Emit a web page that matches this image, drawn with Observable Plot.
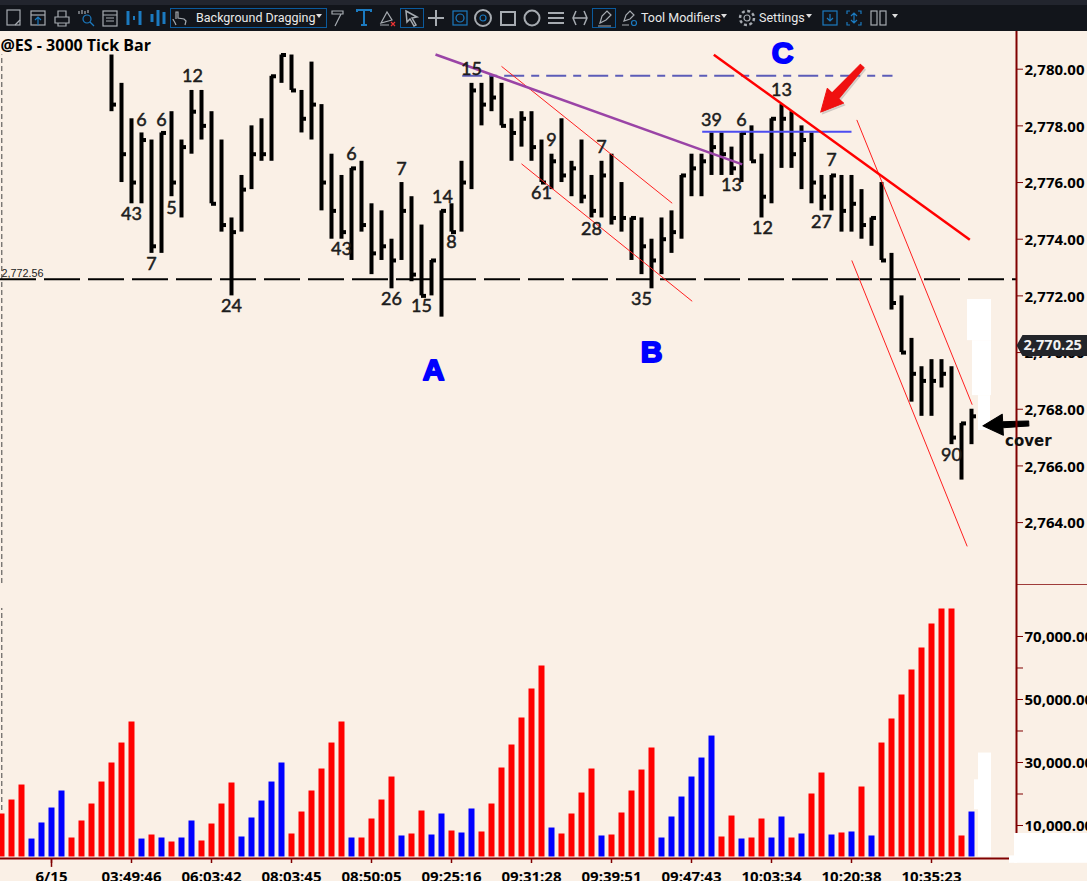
<!DOCTYPE html>
<html>
<head>
<meta charset="utf-8">
<script src="https://cdn.jsdelivr.net/npm/d3@7"></script>
<script src="https://cdn.jsdelivr.net/npm/@observablehq/plot@0.6"></script>
<style>
html,body{margin:0;padding:0;background:#faf0e6;overflow:hidden}
#toolbar{position:relative;width:1087px;height:31px;background:#12151b;border-top:5px solid #22252e;box-sizing:border-box;font-family:Roboto,sans-serif;color:#e9e9e9;font-size:12.5px}
#toolbar span.t{position:absolute;top:4px;line-height:17px;white-space:nowrap}
#toolbar svg{position:absolute;top:3px}
#toolbar .box{position:absolute;top:3px;height:20px;border:1px solid #0b5a9c;box-sizing:border-box}
#charts svg{display:block}
</style>
</head>
<body>
<div id="toolbar"></div>
<div id="charts"></div>
<script>
// ---------- data ----------
const firstPriceBar = 11;
const barHigh = [2780.5,2779.5,2778.25,2777.75,2777.5,2777.75,2778.5,2777.5,2779.25,2779.25,2778.5,2777.5,2774.75,2776.25,2778,2778.25,2779.75,2780.5,2780.5,2779.25,2780.25,2778.75,2777,2776.25,2776.5,2776.75,2775.25,2775,2774,2776,2775.5,2774.5,2773.25,2775,2775.25,2776.75,2779.5,2779.5,2779.75,2779.5,2778.25,2778.5,2778.5,2777.5,2777,2778.25,2776.75,2777.5,2776.25,2776.75,2777,2776,2774.75,2774.75,2774,2774.75,2775,2776.25,2777,2777,2777.75,2777.75,2777.25,2777.75,2778,2777,2778.25,2778.75,2778.5,2778,2777.75,2776.25,2776.25,2776.25,2776.25,2775.75,2774.75,2776,2773.5,2772,2770.5,2769.5,2769.75,2769.75,2769.5,2767.5,2768];
const barLow = [2778.5,2776,2775.25,2775.25,2773.5,2773.5,2775.5,2774.75,2777,2777.5,2775.25,2774.25,2772,2774.25,2775.75,2776.75,2776.75,2779.5,2779.25,2777.75,2777.5,2775,2774,2774,2773.25,2774.25,2772.75,2773.25,2772.25,2773.25,2772.5,2772,2772,2771.25,2774.25,2774.25,2775.75,2778,2778.5,2778,2776.75,2777.25,2776.75,2776,2775.75,2776,2775.5,2775.25,2774.75,2774.75,2774.5,2774.25,2773.25,2772.75,2772.25,2772.75,2773.5,2774,2775.5,2775.5,2776.25,2776.25,2776.25,2776,2776.75,2774.75,2775.25,2776.5,2776.5,2775.75,2775.25,2775,2775,2774.25,2774.25,2774,2773.75,2773.25,2771.5,2770,2768.25,2767.75,2767.75,2768.75,2766.75,2765.5,2766.75];
const barClose = [2778.75,2777,2776,2777.5,2773.75,2777.75,2776,2777.25,2778.5,2778,2775.25,2774.5,2774.25,2775.75,2777,2777,2779.75,2780.5,2779.25,2778.25,2778.75,2776,2775,2774.25,2776.5,2774.5,2773.5,2773.75,2773.25,2775,2772.75,2772,2773.25,2775,2774.25,2776,2779.25,2778.75,2779,2778,2777.75,2778.25,2777.25,2776,2776.75,2776.25,2776.5,2775.5,2775,2776.25,2774.75,2774.75,2774.75,2773.75,2773.25,2774,2774.25,2776.25,2776.5,2776.75,2777.25,2777,2776.5,2777.75,2776.75,2775.5,2778.25,2778.25,2777,2777.5,2776,2775.5,2776.25,2775,2775.25,2774.5,2774.75,2773.25,2771.75,2770,2769.25,2769,2769,2769.25,2767,2767.5,2767.75];

const volumes = [13650,18090,22850,5700,10800,15550,20950,6030,11430,16820,23800,29840,36180,42850,5700,6980,6030,4760,6030,11430,5080,10470,16820,23490,6350,12380,17770,23800,29840,7300,14280,20950,27930,36180,42850,6030,6030,12060,18090,25390,6670,7300,14600,6980,13650,8250,7620,15240,7940,16820,28250,35550,44120,53320,60620,9200,7300,13650,20310,27930,6670,6980,13970,20950,27610,34600,6030,12700,19040,25390,31420,38400,6350,13010,5710,6030,12060,6030,12700,6030,7300,20000,26660,6980,7620,7940,22220,6670,36180,43800,51420,59350,66340,73950,78700,78700,6670,14280];
const volumeSide = "RRRBBBBRRRRRRRBRBRBBRRRRBBBBBRRRRRRBRRRRBRRBBRBBRRRRRRRBRRRRBRRRRRBBBBBBRRBRRBBRBRRBRBRBRRRRRRRRRBB".split("");

const tickBars = [5,13,21,29,37,45,53,61,69,77,85,93];
const tickLabels = ["6/15","03:49:46","06:03:42","08:03:45","08:50:05","09:25:16","09:31:28","09:39:51","09:47:43","10:03:34","10:20:38","10:35:23"];

const noteText  = ["43","6","6","12","5","7","24","6","43","7","26","15","14","8","15","61","9","7","28","35","39","6","13","12","13","27","7","90"];
const noteBar   = [13,14,16,19.1,17,15,23,35,34,40,39,42,44.1,45,47,54,55,60,59,64,71,74,73,76.1,78,82,83,95];
const notePrice = [2774.87,2778.19,2778.19,2779.74,2775.08,2773.11,2771.62,2776.99,2773.64,2776.46,2771.87,2771.62,2775.47,2773.88,2780,2775.61,2777.48,2777.24,2774.34,2771.87,2778.19,2778.19,2775.9,2774.38,2779.25,2774.59,2776.78,2766.36];

const pivotDrawn = 2772.59;
const lastPrice = 2770.25;
const paneRight = 101.5;
const farRight = 108.7;
const priceTicks = [2764,2766,2768,2770,2772,2774,2776,2778,2780];
const volumeTicks = [10000,20000,30000,40000,50000,60000,70000];
const axisRed = "#800000";
const boldFont = "'Open Sans'";
const panel = "#faf0e6";

// trend lines: [x1 bar, price1, x2 bar, price2]
const purpleLine = [43.4,2780.52,74.07,2776.64];
const dashLine   = [46.07,2779.77,89.1,2779.77];
const blueLine   = [70.07,2777.79,85,2777.79];
const redLine    = [71.23,2780.51,96.83,2773.98];
const thinLines  = [[50,2780.1,67.07,2775.27],[52,2776.66,69.07,2771.81],[85.53,2778.21,97.07,2768.16],[85.03,2773.25,96.57,2763.16]];

const bars = barHigh.map((h,k)=>({i:firstPriceBar+k,high:h,low:barLow[k],close:barClose[k]}));
const notes = noteText.map((t,k)=>({t,i:noteBar[k],p:notePrice[k]}));
const volumeRows = volumes.map((v,i)=>({i,v,side:volumeSide[i]}));
const seg = ([x1,y1,x2,y2])=>[{x1,y1,x2,y2}];
const linkOf = (s,o)=>Plot.link(seg(s),{x1:"x1",y1:"y1",x2:"x2",y2:"y2",...o});

// custom shapes for Plot.vector
const arrowShape = (w0,w1,hl,hw)=>({draw(c,l){
  c.moveTo(-w0,0);c.lineTo(-w1,-(l-hl));c.lineTo(-hw,-(l-hl));c.lineTo(0,-l);c.lineTo(hw,-(l-hl));c.lineTo(w1,-(l-hl));c.lineTo(w0,0);c.closePath();
}});
const tagShape = {draw(c){c.moveTo(0,0);c.lineTo(6,-10.5);c.lineTo(73,-10.5);c.lineTo(73,10.5);c.lineTo(6,10.5);c.closePath();}};

const big = {fontFamily:"'Liberation Sans'",fontWeight:"bold",fontSize:30,fill:"#0000ff",stroke:"#0000ff",strokeWidth:2};
const redArrow = {x:86.07,y:2780.11,length:62,rotate:222,anchor:"start",shape:arrowShape(2.5,4.5,22,11)};
const axisFont = {fontFamily:boldFont,fontWeight:"bold",fontSize:15};

const price = Plot.plot({
  width:1087,height:554,marginTop:0,marginBottom:0,marginLeft:0,marginRight:71,
  style:{background:panel,overflow:"hidden"},
  x:{domain:[-0.1,paneRight],range:[0,1016],axis:null},
  y:{domain:[2761.78,2781.33],axis:null},
  marks:[
    Plot.ruleX([0.03],{y1:2761.85,y2:2780.5,stroke:"#444",strokeWidth:1,strokeDasharray:"5,3"}),
    Plot.ruleY([pivotDrawn],{x1:-0.1,x2:paneRight,stroke:"#000",strokeWidth:2,strokeDasharray:"36,8"}),
    Plot.ruleX(bars,{x:"i",y1:"low",y2:"high",stroke:"#000",strokeWidth:4}),
    Plot.ruleY(bars,{y:"close",x1:"i",x2:d=>d.i+0.5,stroke:"#000",strokeWidth:4}),
    linkOf(dashLine,{stroke:"#5c5cb8",strokeWidth:2,strokeDasharray:"20,7,8,7"}),
    linkOf(blueLine,{stroke:"#4c4cf0",strokeWidth:2}),
    ...thinLines.map(s=>linkOf(s,{stroke:"#ff2020",strokeWidth:1})),
    linkOf(purpleLine,{stroke:"#9a44a6",strokeWidth:2.5}),
    linkOf(redLine,{stroke:"#ff0000",strokeWidth:2.5}),
    Plot.text(notes,{x:"i",y:"p",text:"t",fontFamily:"Lato",fontSize:18,fill:"#1c1c1c",stroke:"#1c1c1c",strokeWidth:0.5}),
    Plot.text(["A"],{x:43.2,y:2769.36,...big}),
    Plot.text(["B"],{x:65,y:2770,...big}),
    Plot.text(["C"],{x:78.1,y:2780.55,...big}),
    Plot.text(["@ES - 3000 Tick Bar"],{x:-0.1,y:2780.84,textAnchor:"start",fontFamily:boldFont,fontWeight:"bold",fontSize:16,fill:"#000"}),
    Plot.text(["2,772.56"],{x:-0.1,y:2772.8,dx:1,textAnchor:"start",fontFamily:"'Liberation Sans'",fontSize:10.8,fill:"#222"}),
    // erased patches
    Plot.rect([[96.6,99,2770.42,2771.87],[97.1,99,2768.48,2770.42],[97.7,98.9,2767.25,2768.48]],{x1:"0",x2:"1",y1:"2",y2:"3",fill:"#fff"}),
    // red call-out arrow and black cover arrow
    Plot.vector([0],{...redArrow,dx:1.5,dy:2,fill:"#888",stroke:"#888",strokeWidth:1,fillOpacity:0.3,strokeOpacity:0.2}),
    Plot.vector([0],{...redArrow,fill:"#f01010",stroke:"#f01010",strokeWidth:1}),
    Plot.vector([0],{x:102.73,y:2767.5,length:46,rotate:267,anchor:"start",shape:arrowShape(2.5,3,20,10.5),fill:"#000",stroke:"#000",strokeWidth:1}),
    // right axis
    Plot.ruleX([paneRight],{stroke:axisRed,strokeWidth:2}),
    Plot.ruleY([2761.8],{x1:paneRight,x2:farRight,stroke:axisRed,strokeWidth:1.5}),
    Plot.axisY({anchor:"right",ticks:priceTicks,tickFormat:()=>"",tickSize:6,stroke:axisRed,label:null}),
    Plot.axisY({anchor:"right",ticks:priceTicks,tickFormat:d3.format(",.2f"),tickSize:0,tickPadding:8,dy:1,fill:"#000",...axisFont,label:null}),
    Plot.vector([0],{x:paneRight,y:lastPrice,length:1,anchor:"start",shape:tagShape,fill:"#23252a",stroke:"none"}),
    Plot.text([lastPrice],{x:paneRight,y:lastPrice,text:d3.format(",.2f"),dx:7,textAnchor:"start",fontFamily:boldFont,fontWeight:"bold",fontSize:14.6,fill:"#f2f2f2"}),
    Plot.text(["cover"],{x:102.68,y:2766.86,fontFamily:"'DejaVu Sans'",fontWeight:"bold",fontSize:15,fill:"#111"})
  ]
});

const volume = Plot.plot({
  width:1087,height:296,marginTop:0,marginBottom:23,marginLeft:0,marginRight:71,
  style:{background:panel,overflow:"hidden"},
  x:{domain:[-0.1,paneRight],range:[0,1016],axis:null},
  y:{domain:[-476,86190],axis:null},
  color:{domain:["R","B"],range:["#ff0000","#0000ff"]},
  marks:[
    Plot.ruleX([0.03],{y1:14760,y2:78890,stroke:"#444",strokeWidth:1,strokeDasharray:"5,3"}),
    Plot.ruleX(volumeRows,{x:"i",y1:0,y2:"v",stroke:"side",strokeWidth:6}),
    Plot.rect([[97.7,99,0,33000],[97.3,99,15000,24500]],{x1:"0",x2:"1",y1:"2",y2:"3",fill:"#fff"}),
    Plot.ruleX([paneRight],{stroke:axisRed,strokeWidth:2}),
    Plot.ruleY([-476],{x1:-0.1,x2:100.8,stroke:axisRed,strokeWidth:2}),
    Plot.ruleX([tickBars[0]],{y1:-476,y2:-3300,stroke:axisRed,strokeWidth:1.5}),
    Plot.axisX({anchor:"bottom",ticks:tickBars,tickFormat:d=>tickLabels[tickBars.indexOf(d)],tickSize:5,tickPadding:8,stroke:axisRed,strokeWidth:1.5,fill:"#000",...axisFont,label:null}),
    Plot.axisY({anchor:"right",ticks:volumeTicks,tickFormat:()=>"",tickSize:6,stroke:axisRed,label:null}),
    Plot.axisY({anchor:"right",ticks:volumeTicks,tickFormat:d=>d%20000?d3.format(",.2f")(d):"",tickSize:0,tickPadding:8,dy:1,fill:"#000",...axisFont,label:null}),
    Plot.rect([[101.3,farRight,-2000,7460],[100.8,101.6,-2000,350]],{x1:"0",x2:"1",y1:"2",y2:"3",fill:"#fff"})
  ]
});

document.getElementById("charts").append(price,volume);

// ---------- toolbar chrome ----------
const G="#a6abb1",B="#1b7ac0";
const icons=[
 [14,G,'<rect x="3" y="2" width="13" height="15" fill="none"/><path d="M11 17l5-5" fill="none"/>'],
 [38,G,'<rect x="3" y="3" width="14" height="14" fill="none"/><path d="M3 7h14" fill="none"/><path d="M10 17V9M7 12l3-3 3 3" stroke="'+B+'" fill="none"/>'],
 [62,G,'<path d="M6 9V3h8v6M3 9h14v6H3zM6 15v3h8v-3" fill="none"/>'],
 [86,G,'<path d="M3 3v3M6 2v4M9 3v3M12 2v3" fill="none"/><circle cx="11" cy="11" r="4" stroke="'+B+'" fill="none"/><path d="M14 14l4 4" stroke="'+B+'"/>'],
 [110,G,'<rect x="3" y="3" width="14" height="15" fill="none"/><path d="M3 7h14M6 10h8M6 13h8" fill="none"/>'],
 [134,B,'<path d="M4 3v14M16 3v14" stroke-width="3"/><path d="M10 8v4" stroke-width="2"/>'],
 [158,B,'<path d="M4 6v8M10 2v16M16 4v12" stroke-width="3"/>'],
 [180,G,'<path d="M6 17c-1-3-3-5-3-6M6 11V4l2 0 0 6 6 1 2 2-1 4" fill="none"/>'],
 [339,G,'<path d="M3 3h11v3H3zM12 6l-6 12" fill="none"/>'],
 [364,B,'<path d="M3 4V2h14v2M10 2v15M7 17h6" fill="none" stroke-width="2"/>'],
 [387,G,'<path d="M4 15l6-11 5 8zM3 17h9" fill="none"/><path d="M14 14l4 4M18 14l-4 4" stroke="#e33"/>'],
 [412,G,'<path d="M4 3l11 6-5 1 4 7-2 1-4-7-3 3z" fill="none" stroke-width="1.5"/>'],
 [436,G,'<path d="M10 2v16M2 10h16" stroke-width="2"/>'],
 [460,B,'<rect x="3" y="3" width="14" height="14" fill="none"/><circle cx="10" cy="10" r="4" fill="none"/>'],
 [483,G,'<circle cx="10" cy="10" r="8" fill="none" stroke-width="2"/><circle cx="10" cy="10" r="3" stroke="'+B+'" fill="none"/>'],
 [508,G,'<rect x="3" y="4" width="14" height="13" fill="none" stroke-width="2"/>'],
 [532,G,'<circle cx="10" cy="10" r="7.5" fill="none" stroke-width="2"/>'],
 [556,G,'<path d="M2 5h16M2 10h16M2 15h16" stroke-width="2"/>'],
 [580,G,'<path d="M6 3l-3 7 3 7M14 3l3 7-3 7M3 10h14" fill="none" stroke-width="1.5"/>'],
 [605,G,'<path d="M5 15l2-7 5-5 4 4-5 5zM3 18h13" fill="none"/>'],
 [629,G,'<path d="M5 13l2-6 4-4 4 4-4 4zM3 17h7" fill="none"/><circle cx="15" cy="15" r="2.5" stroke="'+B+'" fill="none"/>'],
 [747,G,'<circle cx="10" cy="10" r="3" fill="none"/><circle cx="10" cy="10" r="7" fill="none" stroke-dasharray="3,2.5" stroke-width="2.5"/>'],
 [830,B,'<rect x="3" y="3" width="14" height="14" fill="none"/><path d="M10 6v7M7 10l3 3 3-3" fill="none"/>'],
 [854,B,'<path d="M3 6V3h3M14 3h3v3M3 14v3h3M14 17h3v-3M10 5v10M7 8l3-3 3 3M7 12l3 3 3-3" fill="none"/>'],
 [878,G,'<rect x="3" y="3" width="6" height="14" fill="none"/><rect x="12" y="3" width="6" height="14" fill="none"/>']
];
const tb=document.getElementById("toolbar");
let html='<div class="box" style="left:170px;width:157px"></div><div class="box" style="left:400px;width:24px"></div><div class="box" style="left:592px;width:24px"></div>';
for(const [x,c,p] of icons) html+=`<svg width="20" height="20" viewBox="0 0 20 20" style="left:${x-10}px" stroke="${c}" fill="${c}" stroke-width="1.2">${p}</svg>`;
const txt=[[196,"Background Dragging"],[641,"Tool Modifiers"],[759,"Settings"]];
for(const [x,s] of txt) html+=`<span class="t" style="left:${x}px">${s}</span>`;
for(const x of [320,725,810,896]) html+=`<span class="t" style="left:${x-4}px;top:9px;width:0;height:0;line-height:0;border:3px solid transparent;border-top:4px solid #ddd"></span>`;
tb.innerHTML=html;
</script>
</body>
</html>
